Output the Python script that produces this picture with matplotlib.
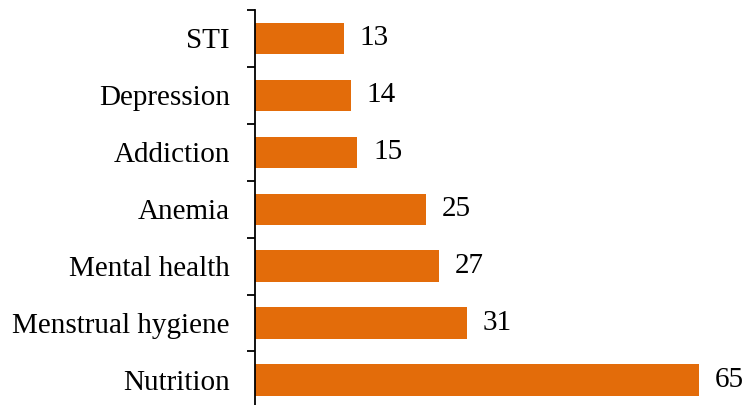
import matplotlib.pyplot as plt
import numpy as np

categories = ['Nutrition', 'Menstrual hygiene', 'Mental health', 'Anemia',
              'Addiction', 'Depression', 'STI']
values = [65, 31, 27, 25, 15, 14, 13]

plt.rcParams['font.family'] = ['Liberation Serif', 'DejaVu Serif']

fig = plt.figure(figsize=(7.45, 4.05), dpi=100)
ax = fig.add_axes([255 / 745, 0, 490 / 745, 1 - 10 / 405])

y = np.arange(len(categories))
ax.barh(y, values, height=0.55, color='#E36C0A')

for yi, v in zip(y, values):
    ax.text(v + 2.3, yi, str(v), va='center', ha='left', fontsize=21)

ax.set_xlim(0, 490 / 6.83)
ax.set_ylim(-0.44, len(categories) - 0.5)

ax.set_yticks(y)
ax.set_yticklabels(categories, fontsize=21)
ax.set_yticks(np.arange(len(categories)) + 0.5, minor=True)
ax.tick_params(axis='y', which='major', length=0, pad=18)
ax.tick_params(axis='y', which='minor', length=6, width=1.3, direction='out')
ax.set_xticks([])

for s in ['top', 'right', 'bottom']:
    ax.spines[s].set_visible(False)
ax.spines['left'].set_linewidth(1.3)

fig.savefig('out.png', dpi=100)
